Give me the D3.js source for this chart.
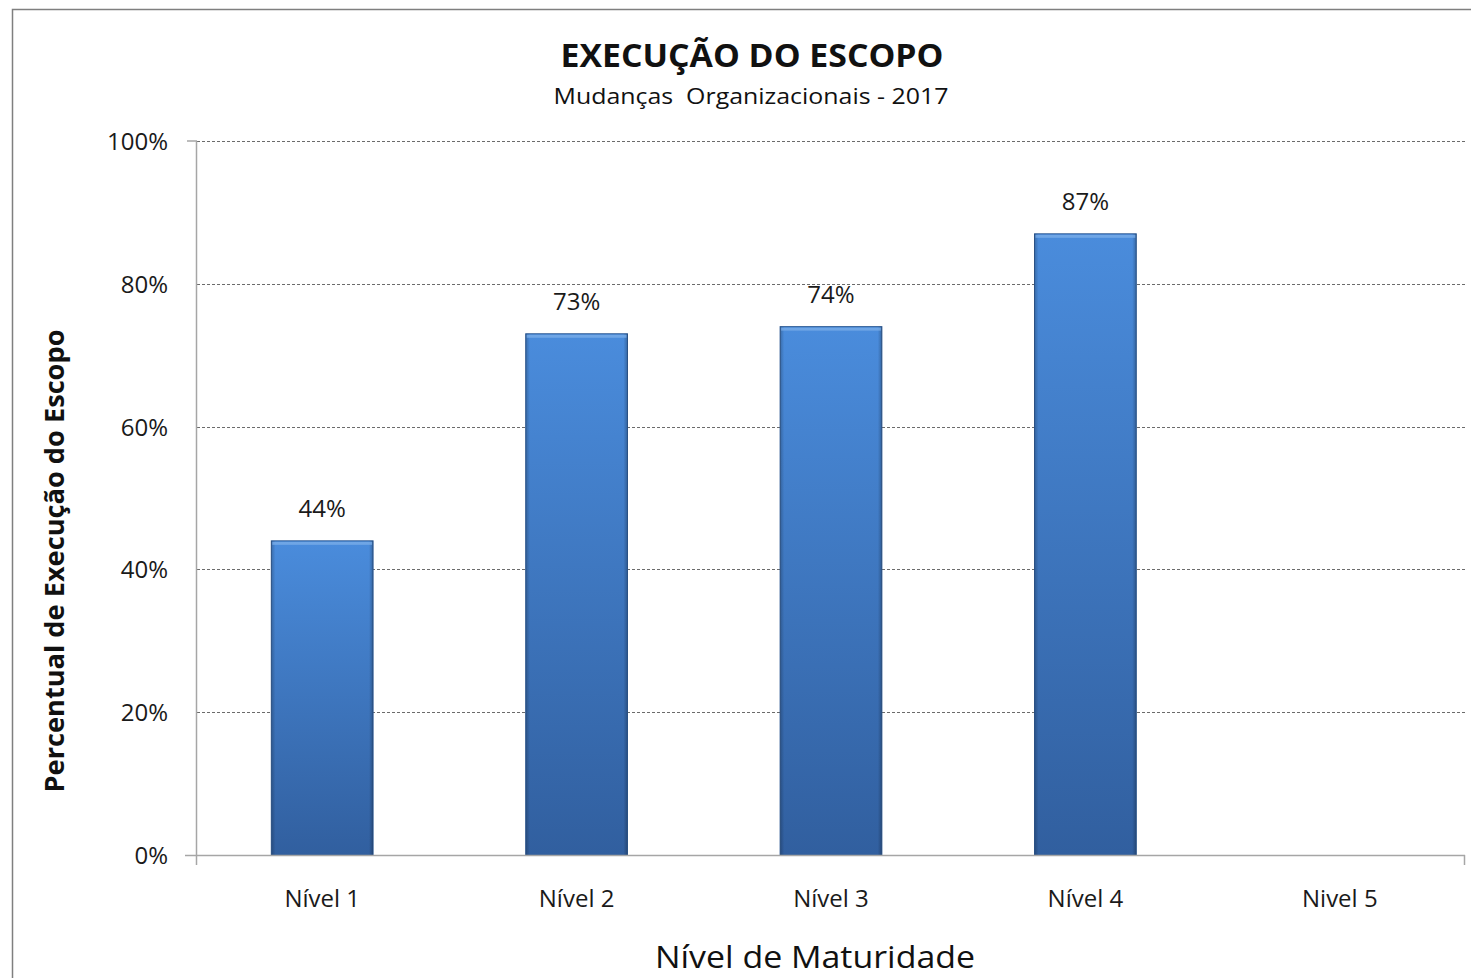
<!DOCTYPE html>
<html>
<head>
<meta charset="utf-8">
<script src="https://cdn.jsdelivr.net/npm/d3@7"></script>
<style>
  html, body { margin: 0; padding: 0; background: #fff; }
  svg { display: block; }
  svg text { font-family: "Open Sans", "Noto Sans", sans-serif; }
</style>
</head>
<body>
<svg id="chart" width="1471" height="978"></svg>
<script>
const categories = ["Nível 1", "Nível 2", "Nível 3", "Nível 4", "Nivel 5"];
const values = [0.44, 0.73, 0.74, 0.87, null];
const yTicks = [0, 0.2, 0.4, 0.6, 0.8, 1.0];
const title = "EXECUÇÃO DO ESCOPO";
const subtitle = "Mudanças  Organizacionais - 2017";
const yTitle = "Percentual de Execução do Escopo";
const xTitle = "Nível de Maturidade";

const FONT = '"Open Sans", "Noto Sans", sans-serif';
const svg = d3.select("#chart");
const W = 1471, H = 978;

// outer chart border
svg.append("rect").attr("x", 12.5).attr("y", 9.5).attr("width", W).attr("height", H)
  .attr("fill", "#fff").attr("stroke", "#7f7f7f").attr("stroke-width", 1.5);

const plotLeft = 197, plotRight = 1465, plotTop = 141, plotBottom = 855;

const x = d3.scaleBand().domain(categories).range([195, 1467]).paddingInner(0.6).paddingOuter(0.3);
const y = d3.scaleLinear().domain([0, 1]).range([plotBottom, plotTop]);

const defs = svg.append("defs");
const grad = defs.append("linearGradient").attr("id", "barGrad")
  .attr("x1", 0).attr("y1", 0).attr("x2", 0).attr("y2", 1);
grad.append("stop").attr("offset", "0%").attr("stop-color", "#4a8cdc");
grad.append("stop").attr("offset", "100%").attr("stop-color", "#315f9f");
const gradH = defs.append("linearGradient").attr("id", "barEdge")
  .attr("x1", 0).attr("y1", 0).attr("x2", 1).attr("y2", 0);
gradH.append("stop").attr("offset", "0%").attr("stop-color", "#000").attr("stop-opacity", 0.22);
gradH.append("stop").attr("offset", "4%").attr("stop-color", "#000").attr("stop-opacity", 0);
gradH.append("stop").attr("offset", "96%").attr("stop-color", "#000").attr("stop-opacity", 0);
gradH.append("stop").attr("offset", "100%").attr("stop-color", "#000").attr("stop-opacity", 0.25);

// gridlines
svg.append("g").selectAll("line").data(yTicks.filter(d => d > 0)).join("line")
  .attr("x1", plotLeft).attr("x2", plotRight)
  .attr("y1", d => Math.round(y(d)) + 0.5).attr("y2", d => Math.round(y(d)) + 0.5)
  .attr("stroke", "#6b6b6b").attr("stroke-width", 1).attr("stroke-dasharray", "3,2");

// y axis
const yAxis = d3.axisLeft(y).tickValues(yTicks).tickFormat(d3.format(".0%")).tickSize(0).tickPadding(29);
const gy = svg.append("g").attr("transform", `translate(${plotLeft},0)`).call(yAxis)
  .attr("font-family", FONT);
gy.select(".domain").remove();
gy.selectAll("text").attr("font-size", 24).attr("fill", "#1a1a1a").attr("dy", "0.35em");
gy.selectAll(".tick line").remove();
svg.append("line").attr("x1", plotLeft - 0.5).attr("x2", plotLeft - 0.5)
  .attr("y1", plotTop).attr("y2", plotBottom + 10).attr("stroke", "#a6a6a6").attr("stroke-width", 1.5);
svg.append("line").attr("x1", plotLeft - 10).attr("x2", plotLeft)
  .attr("y1", plotTop).attr("y2", plotTop).attr("stroke", "#a6a6a6").attr("stroke-width", 1.5);

// bars
const barData = categories.map((c, i) => ({c, v: values[i]})).filter(d => d.v != null);
const bars = svg.append("g").selectAll("g").data(barData).join("g");
bars.append("rect")
  .attr("x", d => x(d.c)).attr("width", x.bandwidth())
  .attr("y", d => y(d.v)).attr("height", d => y(0) - y(d.v))
  .attr("fill", "url(#barGrad)").attr("stroke", "#2e5a94").attr("stroke-width", 1);
bars.append("rect")
  .attr("x", d => x(d.c)).attr("width", x.bandwidth())
  .attr("y", d => y(d.v)).attr("height", d => y(0) - y(d.v))
  .attr("fill", "url(#barEdge)");
bars.append("rect")
  .attr("x", d => x(d.c) + 1).attr("width", x.bandwidth() - 2)
  .attr("y", d => y(d.v) + 1).attr("height", 3)
  .attr("fill", "#7fb0ea").attr("opacity", 0.7);

// value labels
svg.append("g").selectAll("text").data(barData).join("text")
  .attr("x", d => x(d.c) + x.bandwidth() / 2)
  .attr("y", d => y(d.v) - 24)
  .attr("text-anchor", "middle").attr("font-size", 24).attr("fill", "#1a1a1a")
  .text(d => d3.format(".0%")(d.v));

// x axis
const xAxis = d3.axisBottom(x).tickSize(0).tickPadding(35);
const gx = svg.append("g").attr("transform", `translate(0,${plotBottom})`).call(xAxis)
  .attr("font-family", FONT);
gx.select(".domain").remove();
gx.selectAll("text").attr("font-size", 24).attr("fill", "#1a1a1a");
svg.append("line").attr("x1", 185).attr("x2", plotRight).attr("y1", plotBottom + 0.5).attr("y2", plotBottom + 0.5)
  .attr("stroke", "#a6a6a6").attr("stroke-width", 1.5);
svg.append("line").attr("x1", plotRight - 0.5).attr("x2", plotRight - 0.5).attr("y1", plotBottom).attr("y2", plotBottom + 10)
  .attr("stroke", "#a6a6a6").attr("stroke-width", 1.5);

// titles
svg.append("text").attr("x", 752).attr("y", 67).attr("text-anchor", "middle")
  .attr("font-size", 32).attr("font-weight", "bold").attr("fill", "#111")
  .attr("textLength", 383).attr("lengthAdjust", "spacingAndGlyphs").text(title);
svg.append("text").attr("x", 751).attr("y", 104).attr("text-anchor", "middle")
  .attr("font-size", 22).attr("fill", "#111").attr("xml:space", "preserve")
  .attr("textLength", 395).attr("lengthAdjust", "spacingAndGlyphs").text(subtitle);
svg.append("text").attr("transform", "translate(64,561) rotate(-90)").attr("text-anchor", "middle")
  .attr("font-size", 27).attr("font-weight", "bold").attr("fill", "#111")
  .attr("textLength", 463).attr("lengthAdjust", "spacingAndGlyphs").text(yTitle);
svg.append("text").attr("x", 815).attr("y", 968).attr("text-anchor", "middle")
  .attr("font-size", 31).attr("fill", "#111")
  .attr("textLength", 320).attr("lengthAdjust", "spacingAndGlyphs").text(xTitle);
</script>
</body>
</html>
